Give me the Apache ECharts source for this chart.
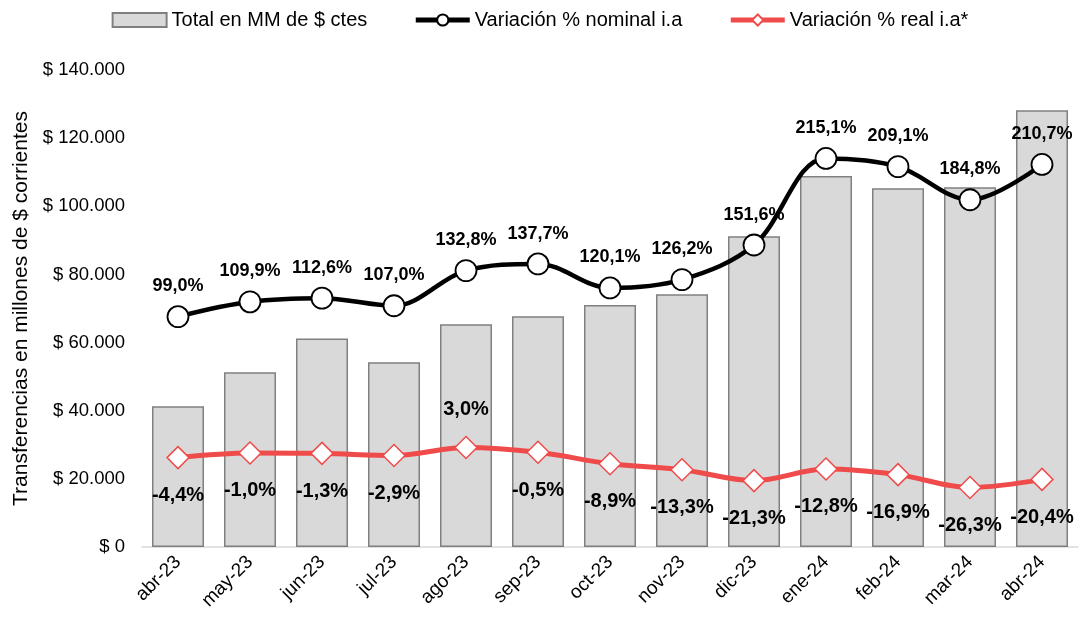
<!DOCTYPE html>
<html>
<head>
<meta charset="utf-8">
<script src="https://cdn.jsdelivr.net/npm/echarts@6/dist/echarts.min.js"></script>
<style>
html,body{margin:0;padding:0;background:#fff;}
#chart{width:1080px;height:623px;}
</style>
</head>
<body>
<div id="chart"></div>
<script>
var meses = ['abr-23','may-23','jun-23','jul-23','ago-23','sep-23','oct-23','nov-23','dic-23','ene-24','feb-24','mar-24','abr-24'];
var totalMM = [41300,51300,61200,54200,65400,67700,71000,74200,91200,108900,105300,105600,128200];
var varNominal = [99.0,109.9,112.6,107.0,132.8,137.7,120.1,126.2,151.6,215.1,209.1,184.8,210.7];
var varReal = [-4.4,-1.0,-1.3,-2.9,3.0,-0.5,-8.9,-13.3,-21.3,-12.8,-16.9,-26.3,-20.4];

var fuente = 'Liberation Sans';

function pct(p){
	return p.value.toFixed(1).replace('.',',') + '%';
}
function miles(v){
	return '$ ' + String(v).replace(/\B(?=(\d{3})+(?!\d))/g,'.');
}

var myChart = echarts.init(document.getElementById('chart'));
var option = {
	animation: false,
	textStyle: {fontFamily: fuente},
	legend: {
		top: 5,
		left: 'center',
		itemGap: 46,
		itemWidth: 54,
		itemHeight: 14,
		textStyle: {fontSize: 20, color: '#000', fontFamily: fuente},
		data: [
			{name: 'Total en MM de $ ctes', icon: 'rect'},
			{name: 'Variación % nominal i.a', lineStyle: {width: 5}},
			{name: 'Variación % real i.a*', lineStyle: {width: 5}}
		]
	},
	grid: {left: 142, right: 2, top: 70, bottom: 76, outerBoundsMode: 'none'},
	xAxis: [{
		type: 'category',
		data: meses,
		axisTick: {show: false},
		axisLine: {lineStyle: {color: '#d9d9d9', width: 1.5}},
		axisLabel: {rotate: 45, fontSize: 19, color: '#000', margin: 12}
	}],
	yAxis: [
		{
			type: 'value',
			min: 0, max: 140000, interval: 20000,
			name: 'Transferencias en millones de $ corrientes',
			nameLocation: 'middle',
			nameGap: 110,
			nameTextStyle: {fontSize: 21, color: '#000'},
			splitLine: {show: false},
			axisLabel: {fontSize: 18.5, color: '#000', formatter: miles, margin: 17}
		},
		{
			type: 'value',
			min: -70, max: 280,
			show: false,
			splitLine: {show: false}
		}
	],
	series: [
		{
			name: 'Total en MM de $ ctes',
			type: 'bar',
			data: totalMM,
			barWidth: 52,
			itemStyle: {color: '#d9d9d9', borderColor: '#808080', borderWidth: 1.5}
		},
		{
			name: 'Variación % nominal i.a',
			type: 'line',
			yAxisIndex: 1,
			smooth: 0.35,
			data: varNominal,
			symbol: 'circle',
			symbolSize: 21,
			z: 4,
			lineStyle: {color: '#000', width: 4.5},
			itemStyle: {color: '#fff', borderColor: '#000', borderWidth: 1.8},
			label: {show: true, position: 'top', distance: 10, formatter: pct, fontSize: 18, fontWeight: 'bold', color: '#000'}
		},
		{
			name: 'Variación % real i.a*',
			type: 'line',
			yAxisIndex: 1,
			smooth: 0.35,
			data: varReal.map(function(v){
				return v > 0 ? {value: v, label: {position: 'top', distance: 16}} : v;
			}),
			symbol: 'diamond',
			symbolSize: 22,
			z: 3,
			lineStyle: {color: '#f04b4b', width: 5},
			itemStyle: {color: '#fff', borderColor: '#f04b4b', borderWidth: 1.5},
			label: {show: true, position: 'bottom', distance: 16, formatter: pct, fontSize: 20, fontWeight: 'bold', color: '#000'}
		}
	]
};
myChart.setOption(option);
</script>
</body>
</html>
